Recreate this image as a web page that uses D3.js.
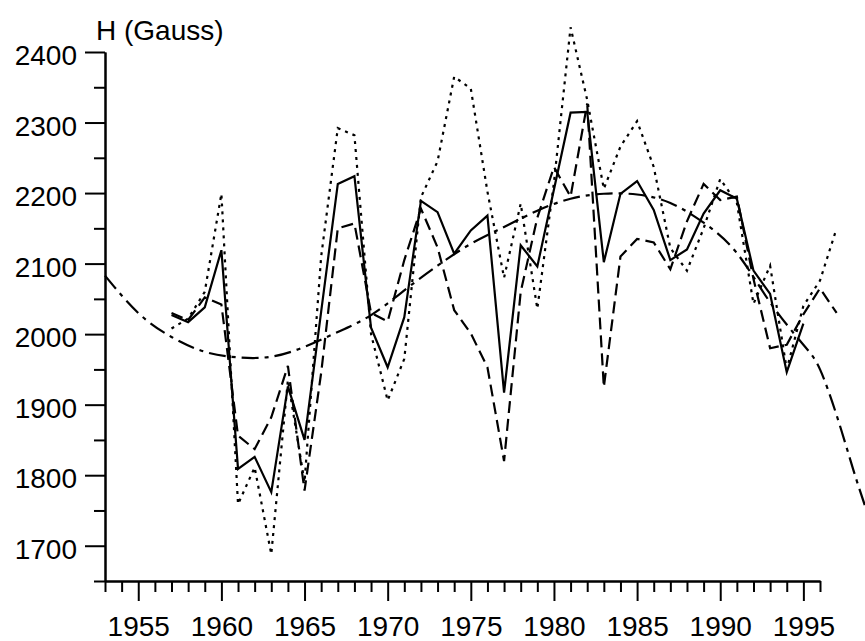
<!DOCTYPE html>
<html>
<head>
<meta charset="utf-8">
<script src="https://cdn.jsdelivr.net/npm/d3@7"></script>
<style>
  body { margin: 0; background: #fff; }
  svg { display: block; }
</style>
</head>
<body>
<svg id="chart"></svg>
<script>
// Chart size
const WIDTH = 865, HEIGHT = 641;

// Years of the yearly series
const years = [1957, 1958, 1959, 1960, 1961, 1962, 1963, 1964, 1965, 1966,
    1967, 1968, 1969, 1970, 1971, 1972, 1973, 1974, 1975, 1976,
    1977, 1978, 1979, 1980, 1981, 1982, 1983, 1984, 1985, 1986,
    1987, 1988, 1989, 1990, 1991, 1992, 1993, 1994, 1995, 1996, 1997];

// Solid series (1957-1995)
const solidValues = [2027, 2017, 2038, 2119, 1809, 1826, 1776, 1926, 1850, 2032,
    2213, 2224, 2009, 1953, 2024, 2189, 2173, 2114, 2147, 2168,
    1917, 2126, 2096, 2205, 2314, 2315, 2102, 2199, 2217, 2176,
    2105, 2120, 2171, 2204, 2192, 2090, 2057, 1946, 2015];

// Dashed series (1957-1997)
const dashedValues = [2030, 2020, 2052, 2042, 1856, 1837, 1882, 1955, 1778, 1945,
    2150, 2157, 2030, 2018, 2105, 2178, 2123, 2034, 2001, 1953,
    1820, 2060, 2165, 2237, 2195, 2327, 1925, 2110, 2135, 2130,
    2092, 2160, 2213, 2190, 2195, 2078, 1980, 1985, 2028, 2065, 2030];

// Dotted series (1957-1997)
const dottedValues = [2008, 2022, 2060, 2199, 1759, 1811, 1688, 1935, 1790, 2110,
    2292, 2282, 2000, 1906, 1965, 2194, 2245, 2365, 2348, 2202,
    2080, 2185, 2036, 2215, 2435, 2332, 2206, 2266, 2302, 2237,
    2122, 2090, 2150, 2220, 2186, 2043, 2097, 1950, 2040, 2076, 2150];

// Smooth trend (dash-dot)
const trendYears = [1953, 1955, 1957, 1959, 1961, 1963, 1965, 1967, 1969, 1971,
    1973, 1975, 1977, 1979, 1981, 1983, 1985, 1987, 1989, 1991,
    1993, 1995, 1996, 1997, 1998, 1998.7];
const trendValues = [2083, 2030, 1996, 1975, 1967, 1968, 1982, 2003, 2027, 2062,
    2097, 2128, 2152, 2175, 2192, 2199, 2198, 2186, 2158, 2115,
    2045, 1985, 1950, 1885, 1808, 1757];

// Tick labels
const xMajor = [1955, 1960, 1965, 1970, 1975, 1980, 1985, 1990, 1995];
const xMinor = [1953, 1954, 1956, 1957, 1958, 1959, 1961, 1962, 1963, 1964, 1966, 1967, 1968, 1969,
    1971, 1972, 1973, 1974, 1976, 1977, 1978, 1979, 1981, 1982, 1983, 1984,
    1986, 1987, 1988, 1989, 1991, 1992, 1993, 1994, 1996];
const yMajor = [1700, 1800, 1900, 2000, 2100, 2200, 2300, 2400];
const yMinor = [1650, 1750, 1850, 1950, 2050, 2150, 2250, 2350];

const FONT = "'Liberation Sans', Arial, sans-serif";

let svg = d3.select("#chart")
    .attr("width", WIDTH)
    .attr("height", HEIGHT);

// Scales
let xScale = d3.scaleLinear().domain([1953, 1996]).range([105, 820]);
let yScale = d3.scaleLinear().domain([1650, 2400]).range([581, 52]);

function styleAxis(g) {
    g.select(".domain").attr("stroke", "#000").attr("stroke-width", 2);
    g.selectAll(".tick line").attr("stroke", "#000").attr("stroke-width", 2);
    g.selectAll(".tick text")
        .attr("fill", "#000")
        .style("font-family", FONT)
        .style("font-size", "28px");
}

// y axis: minor then major ticks
svg.append("g")
    .attr("transform", "translate(105,0)")
    .call(d3.axisLeft(yScale).tickValues(yMinor).tickSize(11).tickSizeOuter(0).tickFormat(""))
    .call(styleAxis);
svg.append("g")
    .attr("transform", "translate(105,0)")
    .call(d3.axisLeft(yScale).tickValues(yMajor).tickSize(20).tickSizeOuter(0)
        .tickPadding(8).tickFormat(d3.format("d")))
    .call(styleAxis)
    .call(g => g.selectAll(".tick text").attr("dy", "0.45em"));

// x axis: minor then major ticks
svg.append("g")
    .attr("transform", "translate(0,581)")
    .call(d3.axisBottom(xScale).tickValues(xMinor).tickSize(11).tickSizeOuter(0).tickFormat(""))
    .call(styleAxis);
svg.append("g")
    .attr("transform", "translate(0,581)")
    .call(d3.axisBottom(xScale).tickValues(xMajor).tickSize(20).tickSizeOuter(0)
        .tickPadding(15).tickFormat(d3.format("d")))
    .call(styleAxis);

// Axis title
svg.append("text")
    .attr("x", 96)
    .attr("y", 40)
    .style("font-family", FONT)
    .style("font-size", "28px")
    .text("H (Gauss)");

// Lines
let line = d3.line()
    .x(d => xScale(d[0]))
    .y(d => yScale(d[1]));

function pairs(xs, vs) { return vs.map((v, i) => [xs[i], v]); }

const series = [
    { data: pairs(trendYears, trendValues), dash: "17,6,4,6", curve: d3.curveNatural },
    { data: pairs(years, dottedValues), dash: "3,5", curve: d3.curveLinear },
    { data: pairs(years, dashedValues), dash: "12,6", curve: d3.curveLinear },
    { data: pairs(years, solidValues), dash: null, curve: d3.curveLinear }
];

svg.append("g")
    .selectAll("path")
    .data(series)
    .enter().append("path")
    .attr("fill", "none")
    .attr("stroke", "#000")
    .attr("stroke-width", 2.2)
    .attr("stroke-dasharray", d => d.dash)
    .attr("d", d => line.curve(d.curve)(d.data));
</script>
</body>
</html>
